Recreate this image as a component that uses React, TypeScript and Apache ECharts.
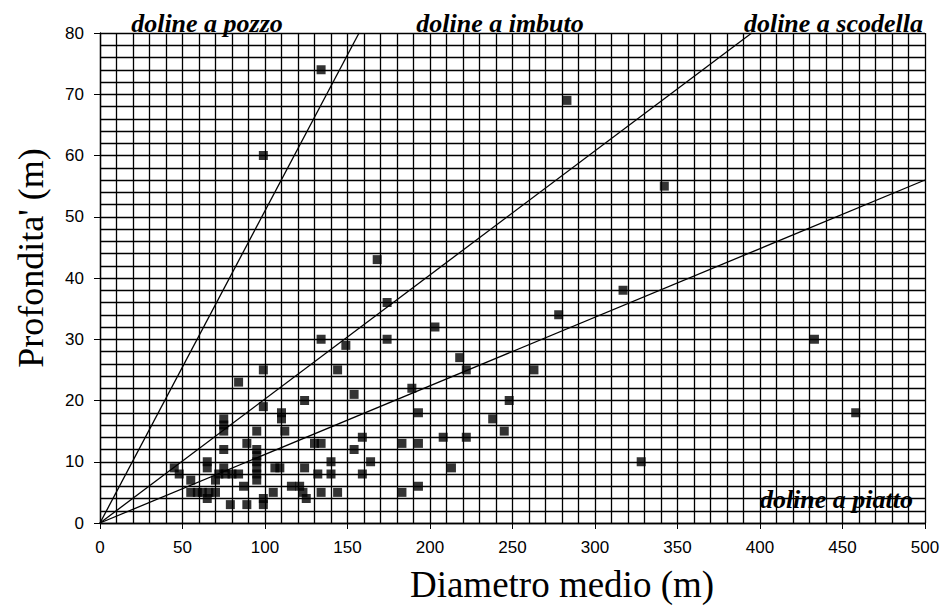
import React, { useEffect, useRef } from "react";
import * as echarts from "echarts";

// Diametro medio (m), Profondita' (m)
const diametri: number[] = [
  134, 99, 283, 342, 168, 174, 174, 317, 278, 203, 134, 149, 218, 222, 263, 99, 144, 84, 189, 154,
  124, 248, 99, 193, 238, 75, 75, 75, 110, 110, 112, 95, 245, 159, 208, 222, 89, 130, 134, 183,
  193, 75, 154, 95, 95, 95, 95, 95, 95, 164, 140, 140, 65, 65, 45, 48, 75, 72, 76, 80,
  84, 106, 109, 124, 132, 159, 213, 433, 458, 328, 55, 70, 87, 116, 121, 123, 125, 55, 59, 62,
  66, 70, 65, 79, 89, 99, 99, 105, 134, 144, 183, 193,
];
const profondita: number[] = [
  74, 60, 69, 55, 43, 36, 30, 38, 34, 32, 30, 29, 27, 25, 25, 25, 25, 23, 22, 21,
  20, 20, 19, 18, 17, 17, 16, 15, 18, 17, 15, 15, 15, 14, 14, 14, 13, 13, 13, 13,
  13, 12, 12, 12, 11, 10, 9, 8, 7, 10, 10, 8, 10, 9, 9, 8, 9, 8, 8, 8,
  8, 9, 9, 9, 8, 8, 9, 30, 18, 10, 7, 7, 6, 6, 6, 5, 4, 5, 5, 5,
  5, 5, 4, 3, 3, 4, 3, 5, 5, 5, 5, 6,
];

// boundary lines from the origin (end points)
const boundaryEnds: [number, number][] = [
  [157, 80],
  [395, 80],
  [500, 56],
];

const xTicks = { min: 0, max: 500, step: 50, minorSplit: 5 };
const yTicks = { min: 0, max: 80, step: 10, minorSplit: 5 };

const classLabels = ["doline a pozzo", "doline a imbuto", "doline a scodella", "doline a piatto"];

export default function App() {
  const ref = useRef<HTMLDivElement>(null);
  useEffect(() => {
    if (!ref.current) return;
    const chart = echarts.init(ref.current, undefined, { renderer: "svg" });
    const points = diametri.map((d, i) => [d, profondita[i]]);
    const lineSeries = boundaryEnds.map((e) => ({
      type: "line" as const,
      data: [[0, 0], e],
      symbol: "none",
      lineStyle: { color: "#000", width: 1.3 },
      silent: true,
      z: 3,
    }));
    const gridLine = { show: true, lineStyle: { color: "#000", width: 1.3 } };
    const sans = "'Liberation Sans', Arial, sans-serif";
    const serif = "'Liberation Serif', 'Times New Roman', serif";
    const labelFont = {
      fontFamily: serif,
      fontStyle: "italic",
      fontWeight: "bold",
      fontSize: 26,
      fill: "#000",
    };
    chart.setOption({
      animation: false,
      backgroundColor: "#fff",
      grid: { left: 100, right: 21, top: 33, bottom: 84 },
      xAxis: {
        type: "value",
        min: xTicks.min,
        max: xTicks.max,
        interval: xTicks.step,
        axisLine: { show: true, lineStyle: { color: "#000", width: 1.3 } },
        axisTick: { show: true, inside: false, length: 6, lineStyle: { color: "#000" } },
        axisLabel: { color: "#000", fontFamily: sans, fontSize: 17, margin: 16 },
        splitLine: gridLine,
        minorTick: { show: false, splitNumber: xTicks.minorSplit },
        minorSplitLine: gridLine,
      },
      yAxis: {
        type: "value",
        min: yTicks.min,
        max: yTicks.max,
        interval: yTicks.step,
        axisLine: { show: true, lineStyle: { color: "#000", width: 1.3 } },
        axisTick: { show: true, inside: false, length: 6, lineStyle: { color: "#000" } },
        axisLabel: { color: "#000", fontFamily: sans, fontSize: 17, margin: 16 },
        splitLine: gridLine,
        minorTick: { show: false, splitNumber: yTicks.minorSplit },
        minorSplitLine: gridLine,
      },
      series: [
        ...lineSeries,
        {
          type: "scatter",
          data: points,
          symbol: "rect",
          symbolSize: [9, 9],
          itemStyle: { color: "#000" },
          z: 4,
        },
      ],
      graphic: [
        { type: "text", x: 207, y: 23, style: { ...labelFont, text: classLabels[0], align: "center", verticalAlign: "middle" }, z: 10 },
        { type: "text", x: 500, y: 23, style: { ...labelFont, text: classLabels[1], align: "center", verticalAlign: "middle" }, z: 10 },
        { type: "text", x: 923, y: 23, style: { ...labelFont, text: classLabels[2], align: "right", verticalAlign: "middle" }, z: 10 },
        { type: "text", x: 913, y: 499, style: { ...labelFont, text: classLabels[3], align: "right", verticalAlign: "middle" }, z: 10 },
        {
          type: "text",
          x: 562,
          y: 584,
          style: { text: "Diametro medio (m)", fontFamily: serif, fontSize: 37, fill: "#000", align: "center", verticalAlign: "middle" },
        },
        {
          type: "text",
          x: 31,
          y: 258,
          rotation: Math.PI / 2,
          style: { text: "Profondita' (m)", fontFamily: serif, fontSize: 36, fill: "#000", align: "center", verticalAlign: "middle" },
        },
      ],
    });
    return () => chart.dispose();
  }, []);
  return (
    <div
      ref={ref}
      style={{ position: "absolute", left: 0, top: 0, width: 946, height: 607 }}
    />
  );
}
